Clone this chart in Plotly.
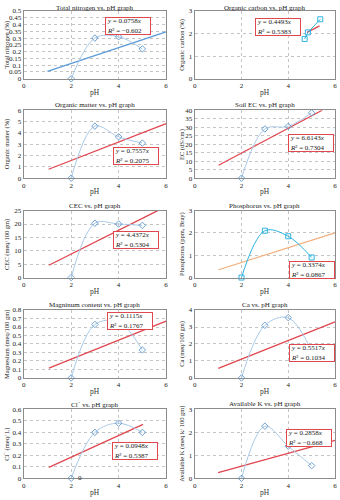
import plotly.graph_objects as go

ph = [2, 3, 4, 5]

titles = ["Total nitrogen vs. pH graph", "Organic carbon vs. pH graph",
          "Organic matter vs. pH graph", "Soil EC vs. pH graph",
          "CEC vs. pH graph", "Phosphorus vs. pH graph",
          "Magninum content vs. pH graph", "Ca vs. pH graph",
          "Cl<sup>−</sup> vs. pH graph", "Available K vs. pH graph"]
ytitles = ["Total nitrogen (%)", "Organic carbon (%)", "Organic matter (%)",
           "EC (dS/cm)", "CEC (meq/100 gm)", "Phosphorus (ppm, Bray)",
           "Magnesium (meq/100 gm)", "Ca (meq/100 gm)", "Cl<sup>−</sup> (meq/ L)",
           "Available K (meq k/ 100 gm)"]

nitrogen = [0, 0.30, 0.31, 0.22]
carbon_ph = [4.70, 4.84, 5.37]
carbon = [1.76, 2.05, 2.63]
organic_matter = [0, 4.6, 3.65, 3.1]
soil_ec = [0, 29, 30.5, 38.5]
cec = [0, 20.3, 20.0, 19.5]
phosphorus = [0, 2.1, 1.85, 0.9]
magnesium = [0, 0.63, 0.66, 0.33]
calcium = [0, 3.1, 3.55, 1.6]
chloride = [0, 0.40, 0.48, 0.40]
potassium = [0, 2.27, 1.4, 0.55]

trend_x = [[1, 6], [4.8, 5.34], [1.05, 6], [1.02, 5.45], [1.06, 5.65],
           [1.02, 6], [1.06, 6], [1.01, 6], [1.06, 5.03], [1.0, 6]]
trend_y = [[0.055, 0.345], [2.05, 2.34], [0.79, 4.83], [7.6, 40], [4.6, 25],
           [0.35, 2.0], [0.116, 0.67], [0.56, 3.3], [0.095, 0.47], [0.25, 1.65]]

equations = ["<i>y</i> = 0.0758<i>x</i><br><i>R</i>² = −0.602",
             "<i>y</i> = 0.4493<i>x</i><br><i>R</i>² = 0.5383",
             "<i>y</i> = 0.7557<i>x</i><br><i>R</i>² = 0.2075",
             "<i>y</i> = 6.6143<i>x</i><br><i>R</i>² = 0.7304",
             "<i>y</i> = 4.4372<i>x</i><br><i>R</i>² = 0.5304",
             "<i>y</i> = 0.3374<i>x</i><br><i>R</i>² = 0.0867",
             "<i>y</i> = 0.1115<i>x</i><br><i>R</i>² = 0.1767",
             "<i>y</i> = 0.5517<i>x</i><br><i>R</i>² = 0.1034",
             "<i>y</i> = 0.0948<i>x</i><br><i>R</i>² = 0.5387",
             "<i>y</i> = 0.2858<i>x</i><br><i>R</i>² = −0.668"]
eq_pos = [(3.43, 0.455), (2.58, 2.7), (3.77, 2.72), (4.0, 26.3), (3.77, 17.4),
          (4.05, 0.75), (3.53, 0.78), (4.05, 2.02), (3.74, 0.32), (3.9, 2.16)]

y_ranges = [(0, 0.5, 0.05), (0, 3, 1), (0, 6, 1), (0, 40, 5), (0, 25, 5),
            (0, 3, 1), (0, 0.8, 0.1), (0, 4, 1), (0, 0.6, 0.1), (0, 3, 1)]

series_x = [ph, carbon_ph, ph, ph, ph, ph, ph, ph, ph, ph]
series_y = [nitrogen, carbon, organic_matter, soil_ec, cec, phosphorus,
            magnesium, calcium, chloride, potassium]

light = "#a9c9e6"
mark = "#6fa3d4"
cyan = "#2eb4e0"
red = "#e0474f"
orange = "#f2b07e"
blue_trend = "#5b9bd5"

rows_px = [(7, 76), (108, 177), (210, 278), (311, 380), (412, 482)]
cols_px = [(22, 166), (195, 337)]
W, H = 340, 500
serif = "Liberation Serif"

fig = go.Figure()
annotations = []
for i in range(10):
    r, c = divmod(i, 2)
    top, bot = rows_px[r]
    left, right = cols_px[c]
    xa = "x" if i == 0 else f"x{i+1}"
    ya = "y" if i == 0 else f"y{i+1}"
    xk = "xaxis" if i == 0 else f"xaxis{i+1}"
    yk = "yaxis" if i == 0 else f"yaxis{i+1}"
    curve_col = cyan if i in (1, 5) else light
    m_col = cyan if i in (1, 5) else mark
    symbol = "square-open" if i in (1, 5) else "diamond-open"
    tcol = blue_trend if i == 0 else (orange if i == 5 else red)
    shape = "linear" if i == 1 else "spline"
    fig.add_trace(go.Scatter(x=trend_x[i], y=trend_y[i], mode="lines",
                             line=dict(color=tcol, width=1.3),
                             xaxis=xa, yaxis=ya, showlegend=False))
    fig.add_trace(go.Scatter(x=series_x[i], y=series_y[i], mode="lines+markers",
                             line=dict(color=curve_col, width=1, shape=shape, smoothing=1),
                             marker=dict(symbol=symbol, size=5, color=m_col,
                                         line=dict(width=1, color=m_col)),
                             xaxis=xa, yaxis=ya, showlegend=False, cliponaxis=False))
    y0, y1, dy = y_ranges[i]
    fig.layout[xk] = dict(domain=[left / W, right / W], range=[0, 6], dtick=2,
                          anchor=ya, showline=True, mirror=True, linecolor="#8c8c8c",
                          linewidth=1, showgrid=True, gridcolor="#c4c4c4",
                          griddash="dot", zeroline=False, ticks="",
                          tickfont=dict(family=serif, size=7, color="#222"),
                          fixedrange=True)
    fig.layout[yk] = dict(domain=[1 - bot / H, 1 - top / H], range=[y0, y1 * 1.0001],
                          dtick=dy, anchor=xa, showline=True, mirror=True,
                          linecolor="#8c8c8c", linewidth=1, showgrid=True,
                          gridcolor="#c4c4c4", griddash="dot", zeroline=False,
                          ticks="", tickfont=dict(family=serif, size=7, color="#222"),
                          fixedrange=True)
    cx = (left + right) / 2 / W
    ty = 4 if r == 0 else top - 5
    annotations.append(dict(text=titles[i], xref="paper", yref="paper", x=cx,
                            y=1 - ty / H, xanchor="center", yanchor="middle",
                            showarrow=False, font=dict(family=serif, size=7, color="#222")))
    annotations.append(dict(text="pH", xref="paper", yref="paper", x=cx,
                            y=1 - (bot + 14) / H, xanchor="center", yanchor="middle",
                            showarrow=False, font=dict(family=serif, size=7.5, color="#333")))
    ytx = 5 if c == 0 else 182
    annotations.append(dict(text=ytitles[i], xref="paper", yref="paper", x=ytx / W,
                            y=1 - (top + bot) / 2 / H, xanchor="center", yanchor="middle",
                            textangle=-90, showarrow=False,
                            font=dict(family=serif, size=6.5, color="#222")))
    ex, ey = eq_pos[i]
    annotations.append(dict(text=equations[i], xref=xa, yref=ya, x=ex, y=ey,
                            xanchor="left", yanchor="top", align="left",
                            width=42, height=14,
                            showarrow=False, bgcolor="white", bordercolor=red,
                            borderwidth=1, borderpad=1,
                            font=dict(family=serif, size=7, color="#222")))

annotations.append(dict(text="0", xref="x9", yref="y9", x=2.38, y=0, showarrow=False,
                        xanchor="center", yanchor="middle",
                        font=dict(family=serif, size=7, color="#222")))

fig.update_layout(width=W, height=H, margin=dict(l=0, r=0, t=0, b=0),
                  paper_bgcolor="white", plot_bgcolor="white",
                  annotations=annotations, showlegend=False)
fig.write_html("out.html")
